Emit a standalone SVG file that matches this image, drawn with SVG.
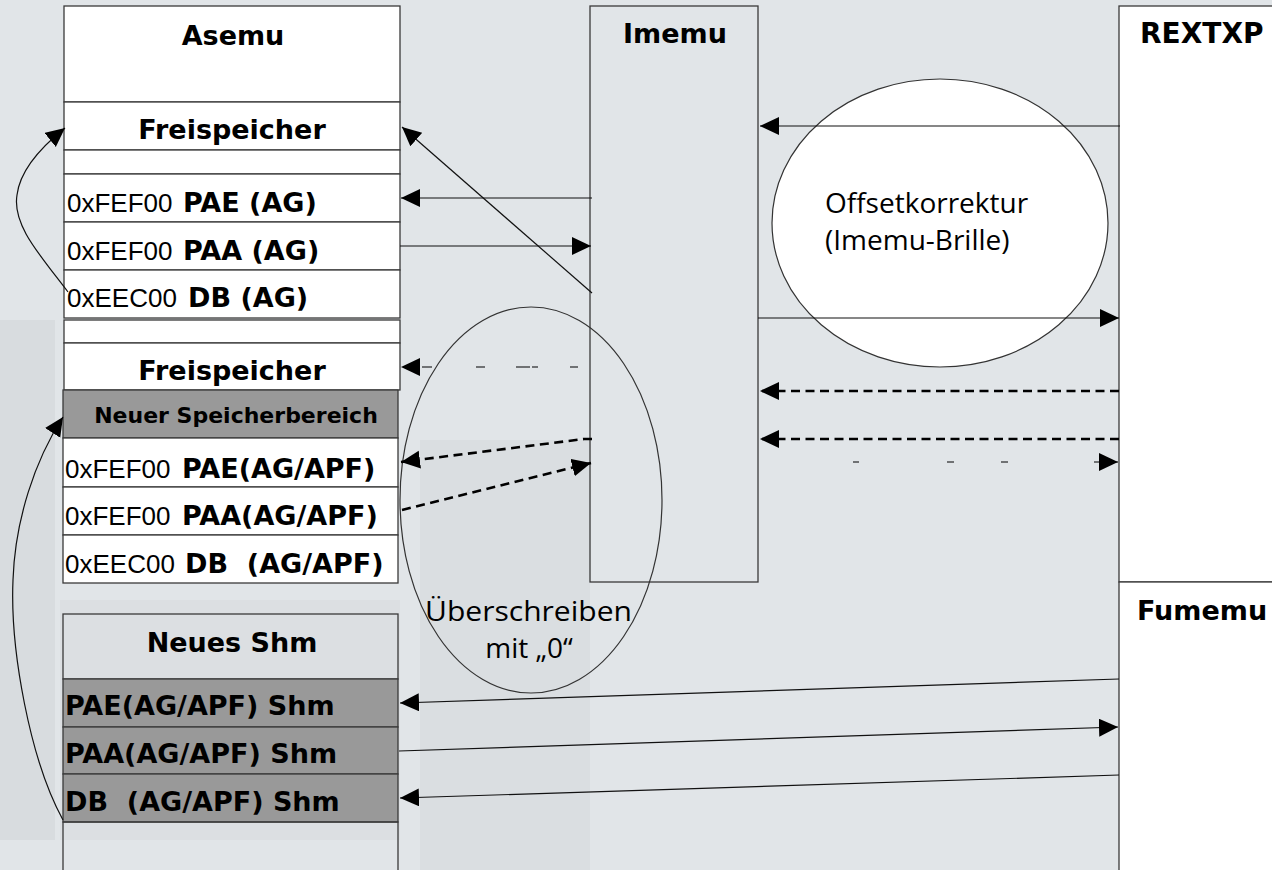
<svg xmlns="http://www.w3.org/2000/svg" width="1272" height="870" viewBox="0 0 1272 870">
<defs>
<style>
.box{stroke:#3a3a3a;stroke-width:1.3}
.w{fill:#ffffff}
.g{fill:#999999}
.t{fill:none}
.b{font-family:"DejaVu Sans",sans-serif;font-weight:bold;font-size:27px;fill:#000}
.r{font-family:"Liberation Sans",Arial,sans-serif;font-size:26px;font-weight:normal;fill:#000}
.o{font-family:"Open Sans",sans-serif;font-size:28px;fill:#000}
.ln{stroke:#111;stroke-width:1.2;fill:none}
.dl{stroke:#000;stroke-width:2.6;fill:none;stroke-dasharray:9,5.5}
.ds{stroke:#000;stroke-width:1.2;fill:none}
.ell{stroke:#333;stroke-width:1.2}
</style>
<marker id="ah" markerUnits="userSpaceOnUse" markerWidth="20" markerHeight="20" refX="19" refY="9" orient="auto">
<path d="M0,0 L19,9 L0,18 z" fill="#000"/>
</marker>
</defs>
<rect x="0" y="0" width="1272" height="870" fill="#e1e5e8"/>
<g id="background">
<rect x="0" y="320" width="55" height="520" fill="#d8dcdf"/>
<rect x="420" y="440" width="170" height="430" fill="#dadee1"/>
<rect x="60" y="600" width="340" height="240" fill="#dcdfe2"/>
</g>

<g id="ellipse-offset">
<ellipse class="ell" cx="940" cy="223" rx="168" ry="144" fill="#ffffff"/>
<text class="o" x="825" y="213">Offsetkorrektur</text>
<text class="o" x="825" y="250">(Imemu-Brille)</text>
</g>

<g id="asemu">
<rect class="box w" x="64" y="6" width="336" height="96"/>
<text class="b" x="233" y="45" text-anchor="middle">Asemu</text>
<rect class="box w" x="64" y="102" width="336" height="48"/>
<text class="b" x="232" y="139" text-anchor="middle">Freispeicher</text>
<rect class="box w" x="64" y="150" width="336" height="24"/>
<rect class="box w" x="64" y="174" width="336" height="48"/>
<text x="67" y="212"><tspan class="r">0xFEF00</tspan><tspan class="b" x="183">PAE (AG)</tspan></text>
<rect class="box w" x="64" y="222" width="336" height="48"/>
<text x="67" y="260"><tspan class="r">0xFEF00</tspan><tspan class="b" x="183">PAA (AG)</tspan></text>
<rect class="box w" x="64" y="270" width="336" height="48"/>
<text x="67" y="307"><tspan class="r">0xEEC00</tspan><tspan class="b" x="188">DB (AG)</tspan></text>
</g>

<g id="asemu-new">
<rect class="box w" x="64" y="320" width="336" height="23"/>
<rect class="box w" x="64" y="343" width="336" height="47"/>
<text class="b" x="232" y="380" text-anchor="middle">Freispeicher</text>
<rect class="box g" x="63" y="390" width="335" height="48"/>
<text class="b" x="236" y="423" text-anchor="middle" style="font-size:22px">Neuer Speicherbereich</text>
<rect class="box w" x="63" y="438" width="335" height="49"/>
<text x="65" y="478"><tspan class="r">0xFEF00</tspan><tspan class="b" x="182">PAE(AG/APF)</tspan></text>
<rect class="box w" x="63" y="487" width="335" height="48"/>
<text x="65" y="525"><tspan class="r">0xFEF00</tspan><tspan class="b" x="182">PAA(AG/APF)</tspan></text>
<rect class="box w" x="63" y="535" width="335" height="48"/>
<text x="65" y="573" xml:space="preserve"><tspan class="r">0xEEC00</tspan><tspan class="b" x="185">DB  (AG/APF)</tspan></text>
</g>

<g id="neues-shm">
<rect class="box t" x="63" y="614" width="335" height="65"/>
<text class="b" x="232" y="652" text-anchor="middle">Neues Shm</text>
<rect class="box g" x="63" y="679" width="335" height="48"/>
<text class="b" x="65" y="715">PAE(AG/APF) Shm</text>
<rect class="box g" x="63" y="727" width="335" height="47"/>
<text class="b" x="65" y="763">PAA(AG/APF) Shm</text>
<rect class="box g" x="63" y="774" width="335" height="48"/>
<text class="b" x="65" y="811" xml:space="preserve">DB  (AG/APF) Shm</text>
<rect class="box t" x="63" y="822" width="335" height="60"/>
</g>

<g id="imemu">
<rect class="box t" x="590" y="6" width="168" height="576"/>
<text class="b" x="675" y="43" text-anchor="middle">Imemu</text>
</g>

<g id="rextxp">
<rect class="box w" x="1119" y="6" width="170" height="576"/>
<text class="b" x="1140" y="43" style="font-size:28px">REXTXP</text>
</g>

<g id="fumemu">
<rect class="box w" x="1119" y="582" width="170" height="300"/>
<text class="b" x="1137" y="620">Fumemu</text>
</g>

<g id="ellipse-overwrite">
<ellipse class="ell" cx="531" cy="500" rx="131" ry="193" fill="none"/>
<text class="o" x="425" y="621" textLength="207" lengthAdjust="spacingAndGlyphs">Überschreiben</text>
<text class="o" x="529" y="658" text-anchor="middle">mit „0“</text>
</g>

<g id="connectors">
<line class="ln" x1="1120" y1="126" x2="760" y2="126" marker-end="url(#ah)"/>
<line class="ln" x1="592" y1="198" x2="401" y2="198" marker-end="url(#ah)"/>
<line class="ln" x1="400" y1="246" x2="591" y2="246" marker-end="url(#ah)"/>
<line class="ln" x1="592" y1="293" x2="402" y2="127" marker-end="url(#ah)"/>
<line class="ln" x1="758" y1="318" x2="1119" y2="318" marker-end="url(#ah)"/>
<line class="ds" x1="578" y1="367" x2="401" y2="367" stroke-dasharray="8,32,6,2,14,31,9,44,10,400" marker-end="url(#ah)"/>
<line class="dl" x1="1119" y1="391" x2="760" y2="391" marker-end="url(#ah)"/>
<line class="dl" x1="1119" y1="439" x2="760" y2="439" marker-end="url(#ah)"/>
<path class="dl" d="M592,439 H584 L401,462" marker-end="url(#ah)"/>
<line class="dl" x1="402" y1="510" x2="591" y2="463" marker-end="url(#ah)"/>
<line class="ds" x1="758" y1="462" x2="1118" y2="462" stroke-dasharray="0,95,6,88,7,47,7,86,20" marker-end="url(#ah)"/>
<line class="ln" x1="1119" y1="679" x2="400" y2="703" marker-end="url(#ah)"/>
<line class="ln" x1="399" y1="751" x2="1118" y2="727" marker-end="url(#ah)"/>
<line class="ln" x1="1119" y1="775" x2="400" y2="798" marker-end="url(#ah)"/>
<path class="ln" d="M68,292 C40,255 12,225 17,195 C20,170 40,148 65,128" marker-end="url(#ah)"/>
<path class="ln" d="M63,820 C30,760 10,650 13,580 C15,520 35,460 63,417" marker-end="url(#ah)"/>
</g>
</svg>
